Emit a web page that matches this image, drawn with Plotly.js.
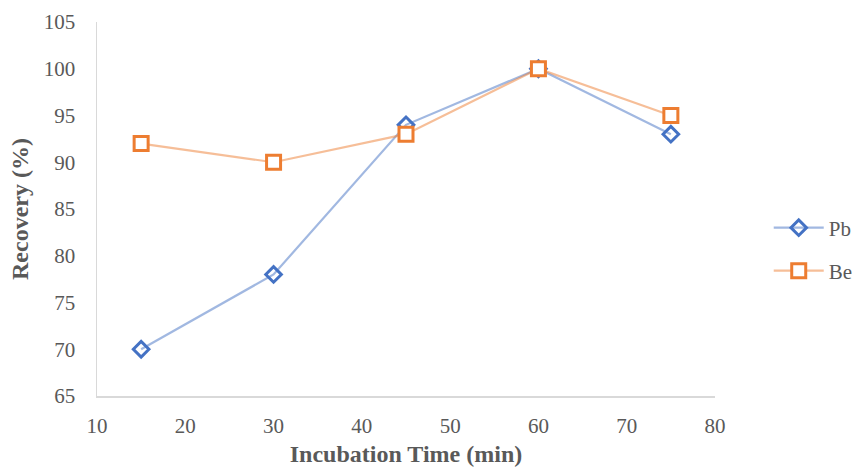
<!DOCTYPE html>
<html><head><meta charset="utf-8">
<script src="https://cdn.plot.ly/plotly-3.0.1.min.js"></script>
<style>html,body{margin:0;padding:0;background:#fff}#chart{width:857px;height:470px}</style>
</head><body><div id="chart"></div>
<script>
const time = [15, 30, 45, 60, 75];
const pb = [70, 78, 94, 100, 93];
const be = [92, 90, 93, 100, 95];
const seriesNames = ['Pb', 'Be'];

const font = 'Liberation Serif, Times New Roman, serif';
const gray = '#595959';

const traces = [
  {x: time, y: pb, name: seriesNames[0], type: 'scatter', mode: 'lines+markers',
   line: {color: 'rgba(68,114,196,0.5)', width: 2.2},
   marker: {symbol: 'diamond-open', size: 12, color: '#4472C4', line: {width: 3, color: '#4472C4'}},
   legend: 'legend'},
  {x: time, y: be, name: seriesNames[1], type: 'scatter', mode: 'lines+markers',
   line: {color: 'rgba(237,125,49,0.5)', width: 2.2},
   marker: {symbol: 'square', size: 14, color: '#ffffff', line: {width: 3, color: '#ED7D31'}},
   legend: 'legend2'}
];

const legendBase = {xref: 'container', yref: 'container', xanchor: 'left', yanchor: 'middle',
  font: {family: font, size: 21, color: gray}, bgcolor: 'rgba(0,0,0,0)', itemwidth: 50};

const layout = {
  width: 857, height: 470,
  margin: {l: 97, r: 142, t: 22, b: 74},
  paper_bgcolor: '#fff', plot_bgcolor: '#fff',
  showlegend: true,
  xaxis: {range: [10, 80], dtick: 10, tick0: 10, showgrid: false, zeroline: false,
    showline: true, linecolor: '#d9d9d9', linewidth: 1.5, ticks: '',
    tickfont: {family: font, size: 21, color: gray}, ticklabelstandoff: 10,
    title: {text: 'Incubation Time (min)', font: {family: font, size: 24, color: gray, weight: 'bold'}, standoff: 8}},
  yaxis: {range: [65, 105], dtick: 5, tick0: 65, showgrid: false, zeroline: false,
    showline: true, linecolor: '#d9d9d9', linewidth: 1.5, ticks: '',
    tickfont: {family: font, size: 21, color: gray}, ticklabelstandoff: 16,
    title: {text: 'Recovery (%)', font: {family: font, size: 24, color: gray, weight: 'bold'}, standoff: 8}},
  legend: Object.assign({}, legendBase, {x: 0.897, y: 1 - 228 / 470}),
  legend2: Object.assign({}, legendBase, {x: 0.897, y: 1 - 271 / 470})
};

Plotly.newPlot('chart', traces, layout, {displayModeBar: false, staticPlot: true});
</script></body></html>
